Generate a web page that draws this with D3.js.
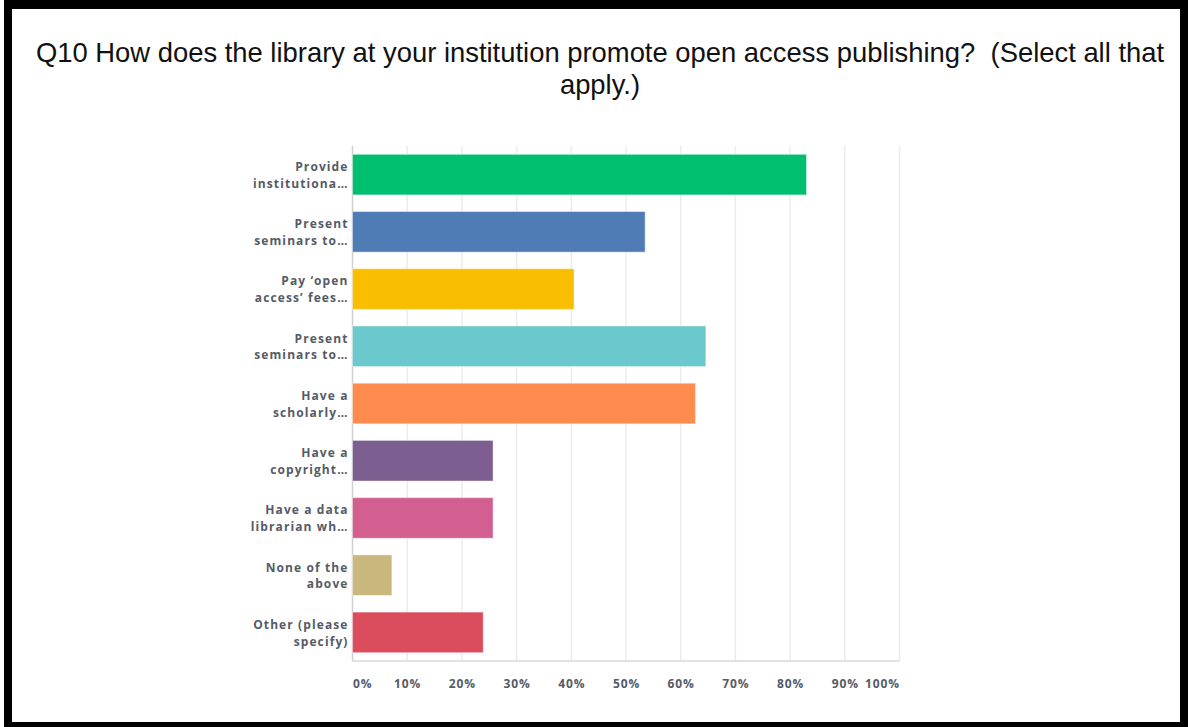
<!DOCTYPE html>
<html>
<head>
<meta charset="utf-8">
<script src="https://cdn.jsdelivr.net/npm/d3@7"></script>
<style>
body { margin:0; background:#fff; }
.label { font-family:"Open Sans", sans-serif; font-weight:700; font-size:12px; letter-spacing:1.1px; fill:#545b66; }
.tick text { font-family:"Open Sans", sans-serif; font-weight:700; font-size:12px; letter-spacing:0.9px; fill:#545b66; }
</style>
</head>
<body>
<svg id="chart"></svg>
<script>

var titleLines = ["Q10 How does the library at your institution promote open access publishing?  (Select all that",
                  "apply.)"];

var categories = ["Provide\ninstitutiona…",
                  "Present\nseminars to…",
                  "Pay ‘open\naccess’ fees…",
                  "Present\nseminars to…",
                  "Have a\nscholarly…",
                  "Have a\ncopyright…",
                  "Have a data\nlibrarian wh…",
                  "None of the\nabove",
                  "Other (please\nspecify)"];

var percents = [83.0, 53.5, 40.5, 64.6, 62.7, 25.7, 25.7, 7.2, 23.9];

var colors = ["#00bf6f","#507cb6","#f9be00","#6bc8cd","#ff8b4f","#7d5e90","#d25f90","#c9b77d","#db4d5c"];

var ticks = [0,10,20,30,40,50,60,70,80,90,100];

var initGraph = function(target)
{
    var screen = {width:1188, height:727};
    var margins = {top:146, bottom:66, left:352.5, right:288.5};
    var graph =
    {
        width:screen.width-margins.left-margins.right,
        height:screen.height-margins.top-margins.bottom
    };

    var svg = d3.select(target)
        .attr("width",screen.width)
        .attr("height",screen.height);

    // frame
    svg.append("rect")
        .attr("x",4).attr("y",0)
        .attr("width",screen.width-4).attr("height",screen.height)
        .style("fill","black");
    svg.append("rect")
        .attr("x",12).attr("y",9)
        .attr("width",1168).attr("height",713)
        .style("fill","white");

    var title = svg.append("text")
        .attr("text-anchor","middle")
        .style("font-family","'Liberation Sans', Arial, sans-serif")
        .style("font-size","27.4px")
        .style("fill","#111")
        .style("white-space","pre");
    title.selectAll("tspan")
        .data(titleLines)
        .enter()
        .append("tspan")
        .attr("x",600)
        .attr("y",function(d,i){return 62+i*32;})
        .text(function(d){return d;});

    var xScale = d3.scaleLinear()
        .domain([0,100])
        .range([0,graph.width]);

    var yScale = d3.scaleBand()
        .domain(d3.range(categories.length))
        .range([0,graph.height])
        .paddingInner(0.29)
        .paddingOuter(0.145);

    var g = svg.append("g")
        .classed("graph",true)
        .attr("transform","translate("+margins.left+","+margins.top+")");

    createAxes(g,graph,xScale);
    drawBars(g,xScale,yScale);
    createLabels(g,yScale);
}

var createAxes = function(g,graph,xScale)
{
    g.append("g")
        .selectAll("line")
        .data(ticks)
        .enter()
        .append("line")
        .attr("x1",function(d){return xScale(d);})
        .attr("x2",function(d){return xScale(d);})
        .attr("y1",0)
        .attr("y2",graph.height)
        .style("stroke",function(d){return d==0 ? "#cfcfcf" : "#ececec";})
        .style("stroke-width",1.5);

    g.append("line")
        .attr("x1",0).attr("x2",graph.width)
        .attr("y1",graph.height).attr("y2",graph.height)
        .style("stroke","#d9d9d9")
        .style("stroke-width",1.5);

    var xAxis = d3.axisBottom(xScale)
        .tickValues(ticks)
        .tickSize(0)
        .tickPadding(18)
        .tickFormat(function(d){return d+"%";});

    var axis = g.append("g")
        .attr("transform","translate(0,"+graph.height+")")
        .call(xAxis);
    axis.select(".domain").remove();
    axis.selectAll(".tick text")
        .attr("text-anchor",function(d){
            if(d==0) return "start";
            if(d==100) return "end";
            return "middle";
        });
}

var drawBars = function(g,xScale,yScale)
{
    g.selectAll("rect.bar")
        .data(percents)
        .enter()
        .append("rect")
        .classed("bar",true)
        .attr("x",xScale(0))
        .attr("y",function(d,i){return yScale(i);})
        .attr("width",function(d){return xScale(d)-xScale(0);})
        .attr("height",yScale.bandwidth())
        .style("fill",function(d,i){return colors[i];})
        .style("stroke","white")
        .style("stroke-opacity",0.45)
        .style("stroke-width",1);
}

var createLabels = function(g,yScale)
{
    var labels = g.append("g")
        .selectAll("text")
        .data(categories)
        .enter()
        .append("text")
        .classed("label",true)
        .attr("text-anchor","end")
        .attr("y",function(d,i){return yScale(i)+yScale.bandwidth()/2;});

    labels.selectAll("tspan")
        .data(function(d){return d.split("\n");})
        .enter()
        .append("tspan")
        .attr("x",-4)
        .attr("dy",function(d,i){return i==0 ? "-0.3em" : "1.4em";})
        .text(function(d){return d;});
}

initGraph("#chart");

</script>
</body>
</html>
